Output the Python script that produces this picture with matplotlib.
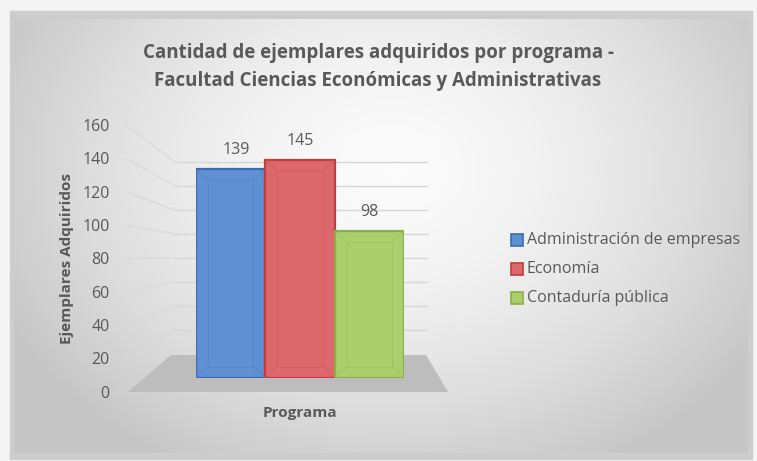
import numpy as np
import matplotlib
matplotlib.use("Agg")
import matplotlib.pyplot as plt
from matplotlib.patches import Polygon, Rectangle

# ---- data ----
programs = ["Administración de empresas", "Economía", "Contaduría pública"]
values = [139, 145, 98]
yticks = [0, 20, 40, 60, 80, 100, 120, 140, 160]
title = "Cantidad de ejemplares adquiridos por programa -\nFacultad Ciencias Económicas y Administrativas"
ylabel = "Ejemplares Adquiridos"
xlabel = "Programa"

face_colors = ["#5f90d2", "#dc686b", "#abcf6c"]
edge_colors = ["#3c6bb0", "#c13c40", "#8bb04a"]
inner_colors = ["#4f7fc0", "#c95558", "#97bc58"]

plt.rcParams['font.family'] = ['Open Sans', 'DejaVu Sans']
TXT = "#595959"

W, H = 757, 461
fig = plt.figure(figsize=(W / 100, H / 100), dpi=100)

# ---- background (pixel coordinate decoration axes) ----
bg = fig.add_axes([0, 0, 1, 1])
bg.set_xlim(0, W)
bg.set_ylim(H, 0)
bg.axis("off")
bg.set_zorder(0)

bg.add_patch(Rectangle((0, 0), W, H, color="#f4f4f4", zorder=0))
bg.add_patch(Rectangle((10, 11), 742, 448, color="#cdcdcd", zorder=1))
px0, px1, py0, py1 = 14, 748, 20, 453
nx, ny = 300, 180
xx, yy = np.meshgrid(np.linspace(px0, px1, nx), np.linspace(py0, py1, ny))
cx, cy = 390, 170
r = np.sqrt(((xx - cx) / 420.0) ** 2 + ((yy - cy) / 330.0) ** 2)
g = np.clip(0.985 - 0.20 * r ** 1.6, 0.78, 0.99)
img = np.dstack([g, g, g])
bg.imshow(img, extent=(px0, px1, py1, py0), aspect="auto", zorder=2, interpolation="bilinear")

floor = Polygon([(128, 392), (448, 392), (426, 355), (171, 355)], closed=True,
                facecolor="#bdbdbd", edgecolor="none", zorder=3)
bg.add_patch(floor)

wall_x0, wall_x1 = 175, 427
back0, back_scale = 354.0, 1.2
front0, front_scale = 391.7, 1.667
for v in yticks[1:]:
    yb = back0 - back_scale * v
    yf = front0 - front_scale * v
    bg.plot([wall_x0, wall_x1], [yb, yb], color="#d6d6d6", lw=1.0, zorder=3)
    bg.plot([126, wall_x0], [yf, yb], color="#dadada", lw=1.0, zorder=3)

# ---- bars axes ----
bar_bottom_px, bar_scale = 377.7, 1.499
ax = fig.add_axes([196 / W, 1 - bar_bottom_px / H, 208 / W, 160 * bar_scale / H])
ax.set_zorder(2)
ax.patch.set_alpha(0)
ax.set_xlim(-0.5, 2.5)
ax.set_ylim(0, 160)
ax.axis("off")
x = np.arange(len(values))
ax.bar(x, values, width=1.0, color=face_colors, edgecolor=edge_colors, linewidth=1.6, zorder=3)

dx = 12 / (208 / 3)
dy = 11 / bar_scale
for i, v in enumerate(values):
    l, rr = i - 0.5, i + 0.5
    il, ir, ib, it = l + dx, rr - dx, dy, v - dy
    ax.plot([il, ir, ir, il, il], [ib, ib, it, it, ib], color=inner_colors[i], lw=0.7, alpha=0.5, zorder=4)
    for (a, b), (c, d) in [((l, 0), (il, ib)), ((rr, 0), (ir, ib)), ((l, v), (il, it)), ((rr, v), (ir, it))]:
        ax.plot([a, c], [b, d], color=inner_colors[i], lw=0.7, alpha=0.5, zorder=4)
    ax.annotate(str(v), (i + [0.08, 0.0, 0.0][i], v), xytext=(0, 8), textcoords="offset points",
                ha="center", va="bottom", fontsize=11.5, color=TXT, zorder=5)

# ---- tick label axes ----
tax = fig.add_axes([118 / W, 1 - front0 / H, 0.001, 160 * front_scale / H])
tax.set_ylim(0, 160)
tax.set_yticks(yticks)
tax.set_yticklabels([str(t) for t in yticks], fontsize=11.5, color=TXT)
tax.tick_params(axis="y", length=0, pad=6)
tax.set_xticks([])
for s in tax.spines.values():
    s.set_visible(False)
tax.patch.set_alpha(0)

# ---- texts ----
fig.text(378 / W, 1 - 67 / H, title, ha="center", va="center", fontsize=13.5,
         fontweight="bold", color=TXT, linespacing=1.55)
fig.text(67 / W, 1 - 258 / H, ylabel, ha="center", va="center", rotation=90,
         fontsize=11, fontweight="bold", color=TXT)
fig.text(300 / W, 1 - 413 / H, xlabel, ha="center", va="center",
         fontsize=11, fontweight="bold", color=TXT)

# ---- legend ----
leg_y = [240, 269, 298]
for i, name in enumerate(programs):
    bg.add_patch(Rectangle((511, leg_y[i] - 6), 12, 12, facecolor=face_colors[i],
                           edgecolor=edge_colors[i], lw=1.2, zorder=6))
    bg.text(527, leg_y[i], name, ha="left", va="center", fontsize=11.5, color=TXT, zorder=6)

fig.savefig("out.png", dpi=100)
